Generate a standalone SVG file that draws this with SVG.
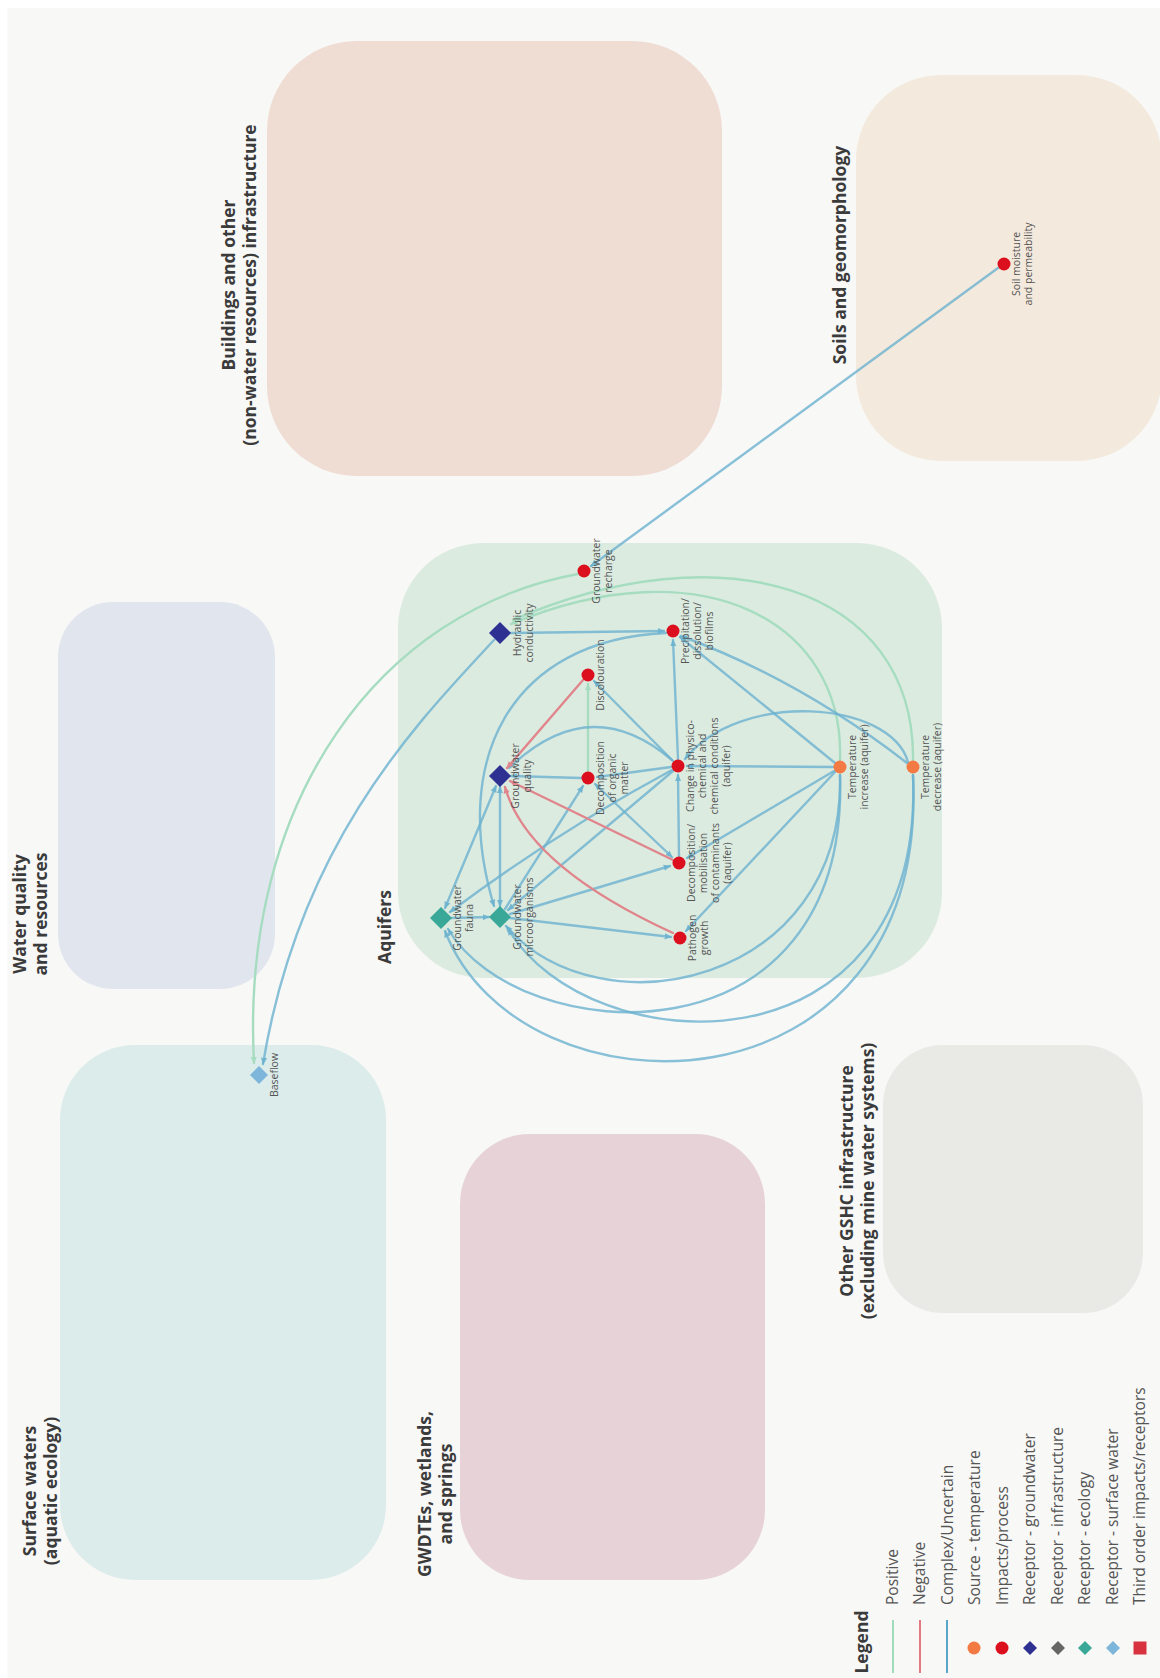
<svg xmlns="http://www.w3.org/2000/svg" width="1160" height="1678" viewBox="0 0 1160 1678">
<style>
.bg{fill:#f8f8f7}
.title{font-family:"Open Sans","Liberation Sans",sans-serif;font-weight:700;font-size:17.5px;fill:#3b3b3b;text-anchor:middle}
.lbl{font-family:"Open Sans","Liberation Sans",sans-serif;font-size:10.5px;fill:#555;text-anchor:middle}
.leg{font-family:"Open Sans","Liberation Sans",sans-serif;font-size:15.5px;fill:#555;text-anchor:start}
.e{fill:none;stroke-width:2.4;stroke-linecap:round}
.pos{stroke:#a6dcc0}
.neg{stroke:#e0858b}
.cx{stroke:#6bb2cf;stroke-opacity:0.8}
.imp{fill:#dc0f1e}
.src{fill:#f47a43}
.gw{fill:#2e3192}
.eco{fill:#39a898}
.sw{fill:#7db6da}
</style>
<defs>
<marker id="aPos" viewBox="0 0 10 10" refX="9" refY="5" markerWidth="7" markerHeight="7" markerUnits="userSpaceOnUse" orient="auto-start-reverse"><path d="M0,0.5 L10,5 L0,9.5 z" fill="#a6dcc0"/></marker>
<marker id="aNeg" viewBox="0 0 10 10" refX="9" refY="5" markerWidth="7" markerHeight="7" markerUnits="userSpaceOnUse" orient="auto-start-reverse"><path d="M0,0.5 L10,5 L0,9.5 z" fill="#e0858b"/></marker>
<marker id="aCx" viewBox="0 0 10 10" refX="9" refY="5" markerWidth="7" markerHeight="7" markerUnits="userSpaceOnUse" orient="auto-start-reverse"><path d="M0,0.5 L10,5 L0,9.5 z" fill="#6bb2cf" fill-opacity="0.9"/></marker>
</defs>

<rect x="0" y="0" width="1160" height="1678" fill="#ffffff"/>
<rect class="bg" x="7.5" y="8" width="1153" height="1670"/>

<g id="areas">
<g id="area-buildings">
<rect x="267" y="41" width="455" height="435" rx="90" ry="90" fill="#efdcd3"/>
<text class="title" transform="translate(235,285) rotate(-90)"><tspan x="0" y="0">Buildings and other</tspan><tspan x="0" y="21">(non-water resources) infrastructure</tspan></text>
</g>
<g id="area-soils">
<rect x="856" y="75" width="306" height="386" rx="85" ry="85" fill="#f3e9dc"/>
<text class="title" transform="translate(846,255) rotate(-90)"><tspan x="0" y="0">Soils and geomorphology</tspan></text>
</g>
<g id="area-water-quality">
<rect x="58" y="602" width="217" height="387" rx="55" ry="55" fill="#e1e5ee"/>
<text class="title" transform="translate(26,914) rotate(-90)"><tspan x="0" y="0">Water quality</tspan><tspan x="0" y="21">and resources</tspan></text>
</g>
<g id="area-aquifers">
<rect x="398" y="543" width="544" height="435" rx="85" ry="85" fill="#dcebe0"/>
<text class="title" transform="translate(391,927) rotate(-90)"><tspan x="0" y="0">Aquifers</tspan></text>
</g>
<g id="area-surface-waters">
<rect x="60" y="1045" width="326" height="535" rx="75" ry="75" fill="#dcecea"/>
<text class="title" transform="translate(36,1491) rotate(-90)"><tspan x="0" y="0">Surface waters</tspan><tspan x="0" y="21">(aquatic ecology)</tspan></text>
</g>
<g id="area-gwdtes">
<rect x="460" y="1134" width="305" height="446" rx="70" ry="70" fill="#e7d3d7"/>
<text class="title" transform="translate(431,1494) rotate(-90)"><tspan x="0" y="0">GWDTEs, wetlands,</tspan><tspan x="0" y="21">and springs</tspan></text>
</g>
<g id="area-other-gshc">
<rect x="883" y="1045" width="260" height="268" rx="60" ry="60" fill="#e9e9e5"/>
<text class="title" transform="translate(853,1181) rotate(-90)"><tspan x="0" y="0">Other GSHC infrastructure</tspan><tspan x="0" y="21">(excluding mine water systems)</tspan></text>
</g>
</g>

<g id="connectors">
<!-- positive -->
<path class="e pos" d="M578,574 C380,610 240,800 254,1063" marker-end="url(#aPos)"/>
<path class="e pos" d="M840,760 C845,620 700,545 511,624" marker-end="url(#aPos)"/>
<path class="e pos" d="M913,760 C915,585 720,530 513,620" marker-end="url(#aPos)"/>
<path class="e pos" d="M588,771 L588,684" marker-end="url(#aPos)"/>
<!-- complex -->
<path class="e cx" d="M998,268 L591,566" marker-end="url(#aCx)"/>
<path class="e cx" d="M494,640 C420,720 300,840 263,1064" marker-end="url(#aCx)"/>
<path class="e cx" d="M510,633 L664,631" marker-end="url(#aCx)"/>
<path class="e cx" d="M678,759 L673,640" marker-end="url(#aCx)"/>
<path class="e cx" d="M673,761 L594,681" marker-end="url(#aCx)"/>
<path class="e cx" d="M581,778 L511,776" marker-end="url(#aCx)"/>
<path class="e cx" d="M671,767 L597,777" marker-end="url(#aCx)"/>
<path class="e cx" d="M672,770 Q560,830 450,912" marker-end="url(#aCx)"/>
<path class="e cx" d="M673,771 L508,910" marker-end="url(#aCx)"/>
<path class="e cx" d="M679,856 L678,775" marker-end="url(#aCx)"/>
<path class="e cx" d="M833,767 L687,766" marker-end="url(#aCx)"/>
<path class="e cx" d="M834,771 L687,858" marker-end="url(#aCx)"/>
<path class="e cx" d="M835,772 L686,931" marker-end="url(#aCx)"/>
<path class="e cx" d="M835,763 L680,637" marker-end="url(#aCx)"/>
<path class="e cx" d="M907,763 Q800,680 681,636" marker-end="url(#aCx)"/>
<path class="e cx" d="M595,784 L672,857" marker-start="url(#aCx)" marker-end="url(#aCx)"/>
<path class="e cx" d="M505,909 L583,786" marker-end="url(#aCx)"/>
<path class="e cx" d="M510,914 L670,866" marker-end="url(#aCx)"/>
<path class="e cx" d="M510,918 L671,937" marker-end="url(#aCx)"/>
<path class="e cx" d="M451,918 L489,917" marker-end="url(#aCx)"/>
<path class="e cx" d="M496,786 L445,908" marker-start="url(#aCx)" marker-end="url(#aCx)"/>
<path class="e cx" d="M500,787 L500,906" marker-start="url(#aCx)" marker-end="url(#aCx)"/>
<path class="e cx" d="M672,760 Q590,690 509,768" marker-end="url(#aCx)"/>
<path class="e cx" d="M666,633 C510,640 450,760 494,906" marker-end="url(#aCx)"/>
<path class="e cx" d="M908,762 C890,700 740,690 685,759" marker-end="url(#aCx)"/>
<path class="e cx" d="M840,775 C845,985 600,1035 506,926" marker-end="url(#aCx)"/>
<path class="e cx" d="M840,775 C850,1070 520,1050 448,929" marker-end="url(#aCx)"/>
<path class="e cx" d="M913,775 C925,1080 590,1065 508,929" marker-end="url(#aCx)"/>
<path class="e cx" d="M913,775 C930,1125 520,1125 445,931" marker-end="url(#aCx)"/>
<!-- negative -->
<path class="e neg" d="M583,680 L507,768" marker-end="url(#aNeg)"/>
<path class="e neg" d="M673,860 L510,781" marker-end="url(#aNeg)"/>
<path class="e neg" d="M673,933 Q527,866 505,787" marker-end="url(#aNeg)"/>
</g>

<g id="nodes">
<g id="n-soil-moisture"><circle class="imp" cx="1004" cy="264" r="6.5"/>
<text class="lbl" transform="translate(1004,264) rotate(-90)"><tspan x="0" y="16">Soil moisture</tspan><tspan x="0" y="28">and permeability</tspan></text></g>
<g id="n-gw-recharge"><circle class="imp" cx="584" cy="571" r="6.5"/>
<text class="lbl" transform="translate(584,571) rotate(-90)"><tspan x="0" y="16">Groundwater</tspan><tspan x="0" y="28">recharge</tspan></text></g>
<g id="n-hydraulic"><path class="gw" d="M500,622 L511,633 L500,644 L489,633 z"/>
<text class="lbl" transform="translate(500,633) rotate(-90)"><tspan x="0" y="21">Hydraulic</tspan><tspan x="0" y="33">conductivity</tspan></text></g>
<g id="n-precipitation"><circle class="imp" cx="673" cy="631" r="6.5"/>
<text class="lbl" transform="translate(673,631) rotate(-90)"><tspan x="0" y="16">Precipitation/</tspan><tspan x="0" y="28">dissolution/</tspan><tspan x="0" y="40">biofilms</tspan></text></g>
<g id="n-discolouration"><circle class="imp" cx="588" cy="675" r="6.5"/>
<text class="lbl" transform="translate(588,675) rotate(-90)"><tspan x="0" y="16">Discolouration</tspan></text></g>
<g id="n-gw-quality"><path class="gw" d="M500,765 L511,776 L500,787 L489,776 z"/>
<text class="lbl" transform="translate(500,776) rotate(-90)"><tspan x="0" y="19">Groundwater</tspan><tspan x="0" y="31">quality</tspan></text></g>
<g id="n-decomp-om"><circle class="imp" cx="588" cy="778" r="6.5"/>
<text class="lbl" transform="translate(588,778) rotate(-90)"><tspan x="0" y="16">Decomposition</tspan><tspan x="0" y="28">of organic</tspan><tspan x="0" y="40">matter</tspan></text></g>
<g id="n-change"><circle class="imp" cx="678" cy="766" r="6.5"/>
<text class="lbl" transform="translate(678,766) rotate(-90)"><tspan x="0" y="16">Change in physico-</tspan><tspan x="0" y="28">chemical and</tspan><tspan x="0" y="40">chemical conditions</tspan><tspan x="0" y="52">(aquifer)</tspan></text></g>
<g id="n-temp-increase"><circle class="src" cx="840" cy="767" r="6.5"/>
<text class="lbl" transform="translate(840,767) rotate(-90)"><tspan x="0" y="16">Temperature</tspan><tspan x="0" y="28">increase (aquifer)</tspan></text></g>
<g id="n-temp-decrease"><circle class="src" cx="913" cy="767" r="6.5"/>
<text class="lbl" transform="translate(913,767) rotate(-90)"><tspan x="0" y="16">Temperature</tspan><tspan x="0" y="28">decrease (aquifer)</tspan></text></g>
<g id="n-decomp-mob"><circle class="imp" cx="679" cy="863" r="6.5"/>
<text class="lbl" transform="translate(679,863) rotate(-90)"><tspan x="0" y="16">Decomposition/</tspan><tspan x="0" y="28">mobilisation</tspan><tspan x="0" y="40">of contaminants</tspan><tspan x="0" y="52">(aquifer)</tspan></text></g>
<g id="n-pathogen"><circle class="imp" cx="680" cy="938" r="6.5"/>
<text class="lbl" transform="translate(680,938) rotate(-90)"><tspan x="0" y="16">Pathogen</tspan><tspan x="0" y="28">growth</tspan></text></g>
<g id="n-gw-fauna"><path class="eco" d="M441,907 L452,918 L441,929 L430,918 z"/>
<text class="lbl" transform="translate(441,918) rotate(-90)"><tspan x="0" y="20">Groundwater</tspan><tspan x="0" y="32">fauna</tspan></text></g>
<g id="n-gw-micro"><path class="eco" d="M500,906 L511,917 L500,928 L489,917 z"/>
<text class="lbl" transform="translate(500,917) rotate(-90)"><tspan x="0" y="21">Groundwater</tspan><tspan x="0" y="33">microorganisms</tspan></text></g>
<g id="n-baseflow"><path class="sw" d="M259,1066 L268,1075 L259,1084 L250,1075 z"/>
<text class="lbl" transform="translate(259,1075) rotate(-90)"><tspan x="0" y="19">Baseflow</tspan></text></g>
</g>

<g id="legend">
<text class="title" transform="translate(868,1642) rotate(-90)">Legend</text>
<line x1="893" y1="1620" x2="893" y2="1673" stroke="#a2dabc" stroke-width="2"/>
<line x1="920" y1="1620" x2="920" y2="1673" stroke="#e07a80" stroke-width="2"/>
<line x1="947" y1="1620" x2="947" y2="1673" stroke="#5aa6c9" stroke-width="2"/>
<circle class="src" cx="974" cy="1648" r="6.5"/>
<circle class="imp" cx="1002" cy="1648" r="6.5"/>
<path class="gw" d="M1030,1641 L1037,1648 L1030,1655 L1023,1648 z"/>
<path d="M1058,1641 L1065,1648 L1058,1655 L1051,1648 z" fill="#666666"/>
<path class="eco" d="M1085,1641 L1092,1648 L1085,1655 L1078,1648 z"/>
<path class="sw" d="M1113,1641 L1120,1648 L1113,1655 L1106,1648 z"/>
<rect x="1133.5" y="1641.5" width="13" height="13" fill="#d9323f"/>
<text class="leg" transform="translate(898,1605) rotate(-90)">Positive</text>
<text class="leg" transform="translate(925,1605) rotate(-90)">Negative</text>
<text class="leg" transform="translate(952.5,1605) rotate(-90)">Complex/Uncertain</text>
<text class="leg" transform="translate(980,1605) rotate(-90)">Source - temperature</text>
<text class="leg" transform="translate(1007.5,1605) rotate(-90)">Impacts/process</text>
<text class="leg" transform="translate(1035,1605) rotate(-90)">Receptor - groundwater</text>
<text class="leg" transform="translate(1062.5,1605) rotate(-90)">Receptor - infrastructure</text>
<text class="leg" transform="translate(1090,1605) rotate(-90)">Receptor - ecology</text>
<text class="leg" transform="translate(1117.5,1605) rotate(-90)">Receptor - surface water</text>
<text class="leg" transform="translate(1145,1605) rotate(-90)">Third order impacts/receptors</text>
</g>
</svg>
